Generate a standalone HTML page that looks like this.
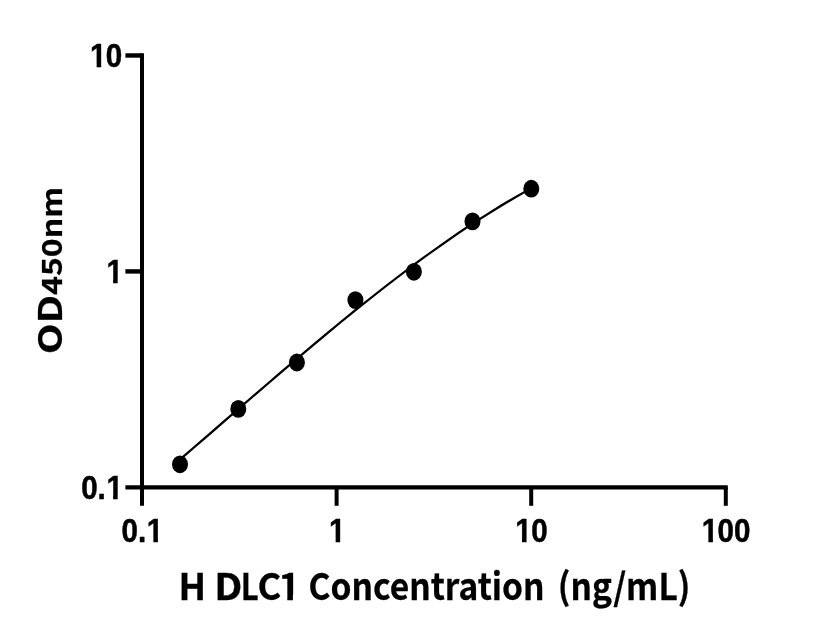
<!DOCTYPE html>
<html lang="en">
<head>
<meta charset="utf-8">
<title>H DLC1 Concentration standard curve</title>
<style>
html,body{margin:0;padding:0;background:#fff;}
body{width:816px;height:640px;overflow:hidden;}
svg{display:block;}
.tick{font-family:"Liberation Sans",sans-serif;font-weight:700;font-size:29.6px;fill:#000;stroke:#000;stroke-width:0.45px;}
.title{font-family:"Noto Sans CJK SC","Liberation Sans",sans-serif;font-weight:700;fill:#000;stroke:#000;stroke-width:0.25px;}
</style>
</head>
<body>
<svg width="816" height="640" viewBox="0 0 816 640">
<rect x="0" y="0" width="816" height="640" fill="#ffffff"/>
<!-- whole figure is drawn on an 816x576 canvas and stretched vertically to 640 -->
<g transform="scale(1 1.11111)">
<!-- axes -->
<g stroke="#000" stroke-width="4.0" fill="none" stroke-linecap="butt">
  <path d="M142.0 47.92 V455.22"/>
  <path d="M125.40 438.62 H727.80"/>
  <path d="M125.40 49.92 H142.0"/>
  <path d="M125.40 244.27 H142.0"/>
  <path d="M336.60 438.62 V455.22"/>
  <path d="M531.20 438.62 V455.22"/>
  <path d="M725.80 438.62 V455.22"/>
</g>
<!-- fitted curve -->
<path d="M180.0 413.58 L194.6 402.20 L209.3 390.79 L223.9 379.37 L238.5 367.95 L253.2 356.56 L267.8 345.20 L282.5 333.91 L297.1 322.70 L311.7 311.59 L326.4 300.59 L341.0 289.73 L355.6 279.03 L370.3 268.50 L384.9 258.16 L399.6 248.03 L414.2 238.13 L428.8 228.49 L443.5 219.10 L458.1 210.01 L472.7 201.22 L487.4 192.75 L502.0 184.62 L516.7 176.86 L531.3 169.48" stroke="#000" stroke-width="2.1" fill="none" stroke-linejoin="round"/>
<!-- data points -->
<g fill="#000">
  <circle cx="180.0" cy="417.87" r="8"/>
  <circle cx="238.3" cy="368.01" r="8"/>
  <circle cx="296.9" cy="326.25" r="8"/>
  <circle cx="355.4" cy="270.09" r="8"/>
  <circle cx="413.9" cy="244.62" r="8"/>
  <circle cx="472.5" cy="199.26" r="8"/>
  <circle cx="531.3" cy="169.83" r="8"/>
</g>
<defs><clipPath id="nofoot"><path clip-rule="evenodd" d="M0 0H816V576H0Z M105.94 445.5000H113.121V450.0000H105.94Z M117.633 445.5000H123.20V450.0000H117.633Z M105.94 251.1000H113.121V255.6000H105.94Z M117.633 251.1000H123.20V255.6000H117.633Z M89.48 56.7000H96.659V61.2000H89.48Z M101.171 56.7000H106.74V61.2000H101.171Z M146.21 484.2000H153.396V488.7000H146.21Z M157.907 484.2000H163.47V488.7000H157.907Z M328.47 484.2000H335.653V488.7000H328.47Z M340.164 484.2000H345.73V488.7000H340.164Z M514.84 484.2000H522.021V488.7000H514.84Z M526.533 484.2000H532.10V488.7000H526.533Z M701.21 484.2000H708.390V488.7000H701.21Z M712.902 484.2000H718.47V488.7000H712.902Z"/></clipPath></defs>
<g clip-path="url(#nofoot)">
<!-- y tick labels -->
<g class="tick">
  <text x="81.15 97.61 106.44" y="449.31">0.1</text>
  <text x="106.44" y="254.96">1</text>
  <text x="89.98 105.84" y="60.61">10</text>
</g>
<!-- x tick labels -->
<g class="tick">
  <text x="121.43 137.89 146.71" y="487.80">0.1</text>
  <text x="328.97" y="487.80">1</text>
  <text x="515.34 531.20" y="487.80">10</text>
  <text x="701.71 717.57 734.03" y="487.80">100</text>
</g>
</g>
<defs><clipPath id="nofoot2"><path clip-rule="evenodd" d="M0 0H816V576H0Z M280.41 535.5000H287.339V540.9000H280.41Z M292.896 535.5000H299.44V540.9000H292.896Z"/></clipPath></defs>
<!-- axis titles -->
<text class="title" y="539.64" font-size="33.1" clip-path="url(#nofoot2)"><tspan x="178.6" textLength="27.6" lengthAdjust="spacingAndGlyphs">H</tspan> <tspan x="214.32" textLength="28.12" lengthAdjust="spacingAndGlyphs">D</tspan><tspan x="240.77" textLength="17.98" lengthAdjust="spacingAndGlyphs">L</tspan><tspan x="257.63" textLength="23.88" lengthAdjust="spacingAndGlyphs">C</tspan><tspan x="278.13" textLength="22.46" lengthAdjust="spacingAndGlyphs">1</tspan> <tspan x="308.5" textLength="236" lengthAdjust="spacingAndGlyphs">Concentration</tspan> <tspan x="557.8" textLength="132.6" lengthAdjust="spacingAndGlyphs">(ng/mL)</tspan></text>
<text class="title" transform="translate(62.1 0) rotate(-90)" font-size="32.2"><tspan x="-318.9" textLength="53.5" lengthAdjust="spacingAndGlyphs">OD</tspan><tspan x="-265.4" font-size="27.7" textLength="97.2" lengthAdjust="spacingAndGlyphs">450nm</tspan></text>
</g>
</svg>
</body>
</html>
